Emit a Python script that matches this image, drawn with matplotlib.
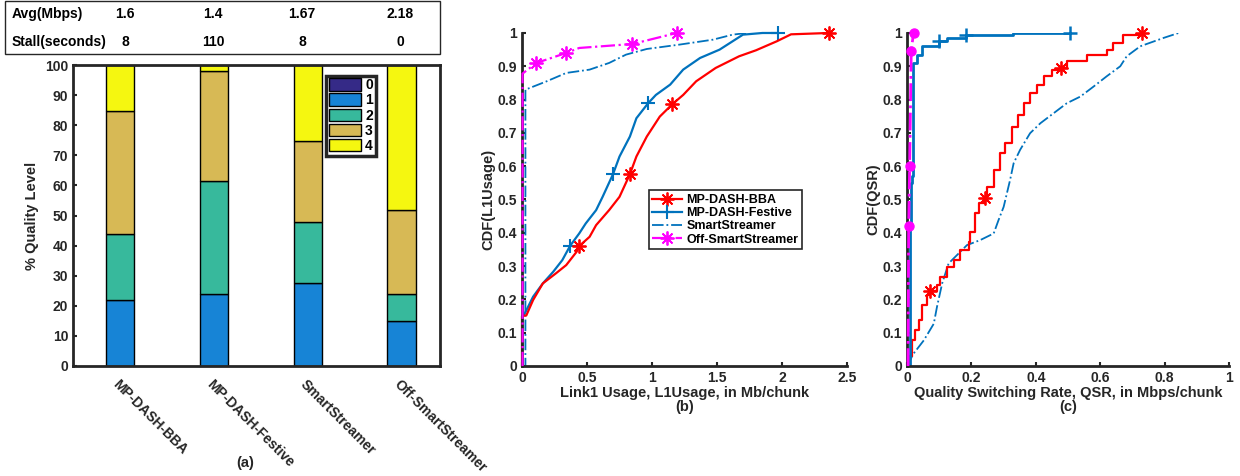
import matplotlib
matplotlib.use("Agg")
import matplotlib.pyplot as plt
import matplotlib.patches as mpatches
import numpy as np

plt.rcParams["font.family"] = ["Liberation Sans", "DejaVu Sans"]
plt.rcParams["font.weight"] = "bold"

# ── Data ──────────────────────────────────────────────────────────────────────
schemes = ["MP-DASH-BBA", "MP-DASH-Festive", "SmartStreamer", "Off-SmartStreamer"]
avg_mbps = ["1.6", "1.4", "1.67", "2.18"]
stall_sec = ["8", "110", "8", "0"]

levels = ["0", "1", "2", "3", "4"]
q0 = [0.0, 0.0, 0.0, 0.0]
q1 = [21.8, 23.8, 27.5, 15.1]
q2 = [22.0, 37.5, 20.2, 8.7]
q3 = [41.0, 36.7, 27.0, 28.1]
q4 = [15.2, 2.0, 25.3, 48.1]

# (b) CDF of link1 usage
b_bba_x = [0, 0, 0.033, 0.085, 0.16, 0.26, 0.34, 0.42, 0.44, 0.52, 0.57, 0.67, 0.75, 0.83,
           0.88, 0.96, 1.06, 1.156, 1.24, 1.34, 1.49, 1.67, 1.80, 1.96, 2.07, 2.36]
b_bba_y = [0, 0.15, 0.152, 0.198, 0.248, 0.278, 0.303, 0.343, 0.36, 0.388, 0.423, 0.468, 0.508, 0.576,
           0.629, 0.689, 0.749, 0.786, 0.814, 0.855, 0.895, 0.93, 0.948, 0.975, 0.996, 1.0]
b_fes_x = [0, 0, 0.02, 0.085, 0.16, 0.24, 0.31, 0.37, 0.44, 0.49, 0.57, 0.62, 0.70, 0.75,
           0.83, 0.88, 0.97, 1.03, 1.14, 1.24, 1.37, 1.52, 1.60, 1.70, 1.85, 1.97]
b_fes_y = [0, 0.15, 0.157, 0.208, 0.248, 0.283, 0.318, 0.361, 0.398, 0.428, 0.468, 0.508, 0.576, 0.629,
           0.689, 0.744, 0.789, 0.814, 0.845, 0.89, 0.925, 0.95, 0.97, 0.995, 1.0, 1.0]
b_ss_x = [0, 0.026, 0.026, 0.06, 0.19, 0.34, 0.52, 0.67, 0.80, 0.96, 1.21, 1.47, 1.62, 1.73, 1.85]
b_ss_y = [0, 0, 0.83, 0.835, 0.855, 0.88, 0.89, 0.91, 0.935, 0.952, 0.965, 0.98, 0.995, 1.0, 1.0]
b_off_x = [0.004, 0.004, 0.11, 0.34, 0.44, 0.85, 1.19]
b_off_y = [0, 0.878, 0.91, 0.94, 0.955, 0.967, 1.0]

# (c) CDF of quality switching rate
c_bba_x = [0, 0.005, 0.015, 0.026, 0.036, 0.047, 0.062, 0.072, 0.093, 0.103, 0.124, 0.145, 0.165,
           0.191, 0.196, 0.212, 0.222, 0.243, 0.248, 0.269, 0.29, 0.305, 0.326, 0.346, 0.362,
           0.383, 0.403, 0.424, 0.45, 0.478, 0.496, 0.558, 0.62, 0.64, 0.672, 0.729]
c_bba_y = [0, 0.03, 0.077, 0.107, 0.137, 0.183, 0.213, 0.225, 0.243, 0.268, 0.298, 0.318, 0.348,
           0.373, 0.403, 0.458, 0.488, 0.503, 0.539, 0.589, 0.639, 0.669, 0.719, 0.754, 0.79,
           0.819, 0.844, 0.87, 0.89, 0.896, 0.915, 0.935, 0.95, 0.97, 0.995, 1.0]
c_ss_x = [0, 0.02, 0.052, 0.083, 0.093, 0.109, 0.129, 0.155, 0.186, 0.227, 0.269, 0.284, 0.30,
          0.32, 0.331, 0.351, 0.382, 0.414, 0.455, 0.496, 0.538, 0.579, 0.62, 0.662, 0.682,
          0.724, 0.796, 0.843]
c_ss_y = [0, 0.037, 0.077, 0.127, 0.178, 0.248, 0.308, 0.333, 0.363, 0.378, 0.398, 0.438, 0.478,
          0.559, 0.609, 0.649, 0.699, 0.729, 0.759, 0.789, 0.809, 0.839, 0.87, 0.9, 0.93,
          0.96, 0.985, 1.0]
c_fes_x = [0, 0.008, 0.009, 0.012, 0.015, 0.018, 0.03, 0.045, 0.098, 0.124, 0.184, 0.33, 0.507]
c_fes_y = [0, 0.15, 0.42, 0.55, 0.57, 0.91, 0.935, 0.962, 0.975, 0.985, 0.993, 1.0, 1.0]
c_off_x = [0.003, 0.005, 0.008, 0.013, 0.02]
c_off_y = [0, 0.42, 0.60, 0.947, 1.0]

# ── Style ─────────────────────────────────────────────────────────────────────
C_LV = ["#352A87", "#1784D6", "#37B99C", "#D7B955", "#F5F710"]
C_RED = "#FF0000"
C_BLUE = "#0072BD"
C_MAG = "#FF00FF"
AX = "#262626"
AST = (8, 2, 0)   # MATLAB-like asterisk

fig = plt.figure(figsize=(12.4, 4.76), dpi=100)

def _style(ax, box=False):
    for sp in ["top", "right"]:
        ax.spines[sp].set_visible(box)
    for sp in ax.spines.values():
        sp.set_color(AX)
        sp.set_linewidth(2.0)
    ax.tick_params(colors=AX, labelsize=10, direction="in", length=3, width=1.5)
    for lab in ax.get_xticklabels() + ax.get_yticklabels():
        lab.set_fontweight("bold")

# ── (a) stacked bars ─────────────────────────────────────────────────────────
ax = fig.add_axes([0.0589, 0.2311, 0.2959, 0.6323])
x = np.arange(1, len(schemes) + 1)
bottom = np.zeros(len(schemes))
for lv, vals, c in zip(levels, [q0, q1, q2, q3, q4], C_LV):
    ax.bar(x, vals, 0.3, bottom=bottom, color=c, edgecolor="black", linewidth=1.0, label=lv)
    bottom += np.array(vals)
ax.set_xlim(0.5, 4.41)
ax.set_ylim(0, 100)
ax.set_yticks(np.arange(0, 101, 10))
ax.set_xticks(x)
ax.set_xticklabels(schemes, rotation=-45, ha="left", va="top", rotation_mode="anchor")
_style(ax, box=True)
ax.tick_params(axis="x", length=0, pad=8)
for lab in ax.get_xticklabels():
    lab.set_fontsize(10)
ax.set_ylabel("% Quality Level", fontsize=10.5, fontweight="bold", color=AX)
leg = ax.legend(loc="upper left", bbox_to_anchor=(0.69, 0.965), fontsize=10,
                handlelength=2.3, handleheight=1.0, borderpad=0.2, labelspacing=0.08,
                handletextpad=0.3, borderaxespad=0, fancybox=False, framealpha=1)
leg.get_frame().set_edgecolor(AX)
leg.get_frame().set_linewidth(2.5)
fig.text(245 / 1240, 1 - 463 / 476, "(a)", ha="center", va="center", fontsize=10.5, color=AX)

# table box above (a)
fig.patches.append(mpatches.Rectangle((5 / 1240, 1 - 54 / 476), 435 / 1240, 53 / 476,
                                      transform=fig.transFigure, fill=False,
                                      edgecolor=AX, linewidth=1.0))
fig.text(12 / 1240, 1 - 14 / 476, "Avg(Mbps)", fontsize=10, va="center", color="black")
fig.text(12 / 1240, 1 - 42 / 476, "Stall(seconds)", fontsize=10, va="center", color="black")
for xc, a, s in zip([125, 213, 302, 400], avg_mbps, stall_sec):
    fig.text(xc / 1240, 1 - 14 / 476, a, fontsize=10, va="center", ha="center")
    fig.text(xc / 1240, 1 - 42 / 476, s, fontsize=10, va="center", ha="center")

# ── (b) CDF link1 usage ──────────────────────────────────────────────────────
ax = fig.add_axes([0.421, 0.2311, 0.262, 0.6996])
ax.plot(b_ss_x, b_ss_y, "-.", color=C_BLUE, lw=1.3, label="SmartStreamer")
ax.plot(b_off_x, b_off_y, "-.", color=C_MAG, lw=1.6, marker=AST, ms=10, mew=1.3,
        markevery=[2, 3, 5, 6], clip_on=False, zorder=4, label="Off-SmartStreamer")
ax.plot(b_fes_x, b_fes_y, "-", color=C_BLUE, lw=1.6, marker="+", ms=10, mew=1.5,
        markevery=[7, 12, 16, 25], clip_on=False, label="MP-DASH-Festive")
ax.plot(b_bba_x, b_bba_y, "-", color=C_RED, lw=1.6, marker=AST, ms=10, mew=1.3,
        markevery=[8, 13, 17, 25], clip_on=False, label="MP-DASH-BBA")
ax.set_xlim(0, 2.5)
ax.set_ylim(0, 1)
ax.set_xticks([0, 0.5, 1, 1.5, 2, 2.5])
ax.set_xticklabels(["0", "0.5", "1", "1.5", "2", "2.5"])
ax.set_yticks(np.arange(0, 1.01, 0.1))
ax.set_yticklabels(["0", "0.1", "0.2", "0.3", "0.4", "0.5", "0.6", "0.7", "0.8", "0.9", "1"])
_style(ax)
ax.set_ylabel("CDF(L1Usage)", fontsize=10.5, fontweight="bold", color=AX, labelpad=2)
ax.set_xlabel("Link1 Usage, L1Usage, in Mb/chunk\n(b)", fontsize=10.5, fontweight="bold",
              color=AX, labelpad=1, linespacing=1.0)
h, l = ax.get_legend_handles_labels()
order = [3, 2, 0, 1]
leg = ax.legend([h[i] for i in order], [l[i] for i in order], loc="lower left",
                bbox_to_anchor=(0.39, 0.35), fontsize=9, handlelength=2.4,
                borderpad=0.3, labelspacing=0.1, handletextpad=0.3, borderaxespad=0,
                fancybox=False, framealpha=1)
leg.get_frame().set_edgecolor(AX)
leg.get_frame().set_linewidth(1.2)

# ── (c) CDF quality switching rate ───────────────────────────────────────────
ax = fig.add_axes([0.7315, 0.2311, 0.2597, 0.6996])
ax.plot(c_ss_x, c_ss_y, "-.", color=C_BLUE, lw=1.3)
ax.step(c_bba_x, c_bba_y, "-", where="post", color=C_RED, lw=1.6)
ax.plot([c_bba_x[i] for i in [7, 17, 29, 35]], [c_bba_y[i] for i in [7, 17, 29, 35]],
        ls="none", marker=AST, color=C_RED, ms=10, mew=1.3, clip_on=False)
ax.step(c_fes_x, c_fes_y, "-", where="post", color=C_BLUE, lw=2.0)
ax.plot([c_fes_x[i] for i in [8, 10, 12]], [c_fes_y[i] for i in [8, 10, 12]],
        ls="none", marker="+", color=C_BLUE, ms=10, mew=1.8, clip_on=False)
ax.plot(c_off_x, c_off_y, "-.", color=C_MAG, lw=2.0, marker="o", ms=6.5,
        markevery=[1, 2, 3, 4], clip_on=False, zorder=4)
ax.set_xlim(0, 1)
ax.set_ylim(0, 1)
ax.set_xticks([0, 0.2, 0.4, 0.6, 0.8, 1])
ax.set_xticklabels(["0", "0.2", "0.4", "0.6", "0.8", "1"])
ax.set_yticks(np.arange(0, 1.01, 0.1))
ax.set_yticklabels(["0", "0.1", "0.2", "0.3", "0.4", "0.5", "0.6", "0.7", "0.8", "0.9", "1"])
_style(ax)
ax.set_ylabel("CDF(QSR)", fontsize=10.5, fontweight="bold", color=AX, labelpad=2)
ax.set_xlabel("Quality Switching Rate, QSR, in Mbps/chunk\n(c)", fontsize=10.5,
              fontweight="bold", color=AX, labelpad=1, linespacing=1.0)

fig.savefig("out.png", dpi=100, facecolor="white")
